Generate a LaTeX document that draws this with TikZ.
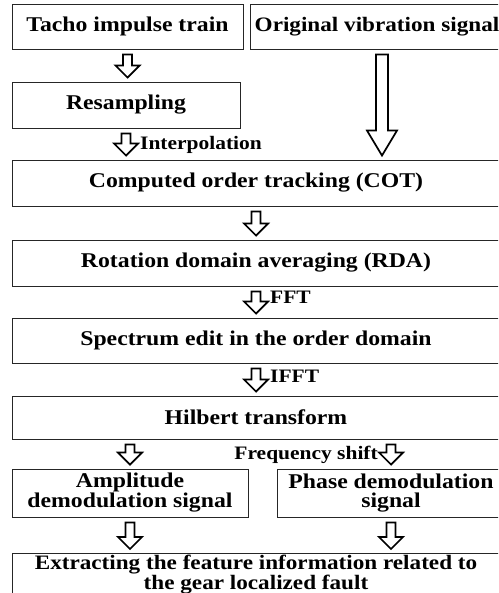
\documentclass[tikz,border=0pt]{standalone}
\usepackage{fontspec}
\setmainfont{Liberation Serif}[FakeStretch=1.13]
\usetikzlibrary{calc}

\begin{document}
\begin{tikzpicture}[x=1pt,y=-1pt]

\tikzstyle{box}=[draw=black!85,line width=0.9pt,inner sep=0pt,align=center,font=\bfseries\fontsize{21}{19}\selectfont]
\tikzstyle{annot}=[inner sep=0pt,font=\bfseries\fontsize{19}{19}\selectfont]
\tikzset{hollow/.style n args={3}{line width=1.7pt,line join=miter,
  to path={let \p1=(\tikztostart), \p2=(\tikztotarget) in
    (\x1-#1,\y1-5pt) -- (\x1-#1,\y2+4pt+#3) -- (\x1-#2,\y2+4pt+#3) -- (\x1,\y2+4pt)
    -- (\x1+#2,\y2+4pt+#3) -- (\x1+#1,\y2+4pt+#3) -- (\x1+#1,\y1-5pt) -- cycle}}}
\tikzstyle{smallArrow}=[hollow={4.5pt}{12pt}{12pt}]
\tikzstyle{bigArrow}=[hollow={6pt}{15pt}{25pt}]

\useasboundingbox (0,0) rectangle (498,593);
\clip (0,0) rectangle (498,593);

%Inputs
\node[box,minimum width=231pt,minimum height=45pt] (tacho) at (127.5,26.5) {Tacho impulse train};
\node[box,minimum width=254pt,minimum height=45pt,font=\bfseries\fontsize{20.5}{19}\selectfont] (orig) at (377,26.5) {Original vibration signal};
\node[box,minimum width=228pt,minimum height=46pt] (resamp) at (126,105) {Resampling};

%Main chain
\node[box,minimum width=488pt,minimum height=46pt] (cot) at (256,183) {Computed order tracking (COT)};
\node[box,minimum width=488pt,minimum height=46pt] (rda) at (256,263) {Rotation domain averaging (RDA)};
\node[box,minimum width=488pt,minimum height=45pt] (spec) at (256,340.5) {Spectrum edit in the order domain};
\node[box,minimum width=488pt,minimum height=43pt] (hilb) at (256,417.5) {Hilbert transform};

%Outputs
\node[box,minimum width=236pt,minimum height=48pt] (amp) at (130,493) {Amplitude\\demodulation signal};
\node[box,minimum width=228pt,minimum height=48pt] (phase) at (391,493) {Phase demodulation\\signal};
\node[box,minimum width=488pt,inner ysep=2pt,anchor=north,font=\bfseries\fontsize{20.5}{17}\selectfont] (extr) at (256,553) {Extracting the feature information related to\\the gear localized fault};

\draw[smallArrow] (tacho.south) to (resamp.north);
\draw[smallArrow] (resamp.south) to (cot.north);
\draw[bigArrow] ($(orig.south)+(5pt,0)$) to (cot.north);
\draw[smallArrow] (cot.south) to (rda.north);
\draw[smallArrow] (rda.south) to (spec.north);
\draw[smallArrow] (spec.south) to (hilb.north);
\draw[smallArrow] (hilb.south -| amp.north) to (amp.north);
\draw[smallArrow] (hilb.south -| phase.north) to (phase.north);
\draw[smallArrow] (amp.south) to (extr.north);
\draw[smallArrow] (phase.south) to (extr.north);

%Arrow labels
\node[annot,anchor=base west] (interp) at ($(resamp.south)+(14pt,-21pt)$) {Interpolation};
\node[annot,anchor=base west] (fft) at ($(rda.south)+(14pt,-17pt)$) {FFT};
\node[annot,anchor=base west] (ifft) at ($(spec.south)+(14pt,-19pt)$) {IFFT};
\node[annot,anchor=base east] (fshift) at ($(hilb.south -| phase.north)+(-13pt,-20pt)$) {Frequency shift};

\end{tikzpicture}
\end{document}
